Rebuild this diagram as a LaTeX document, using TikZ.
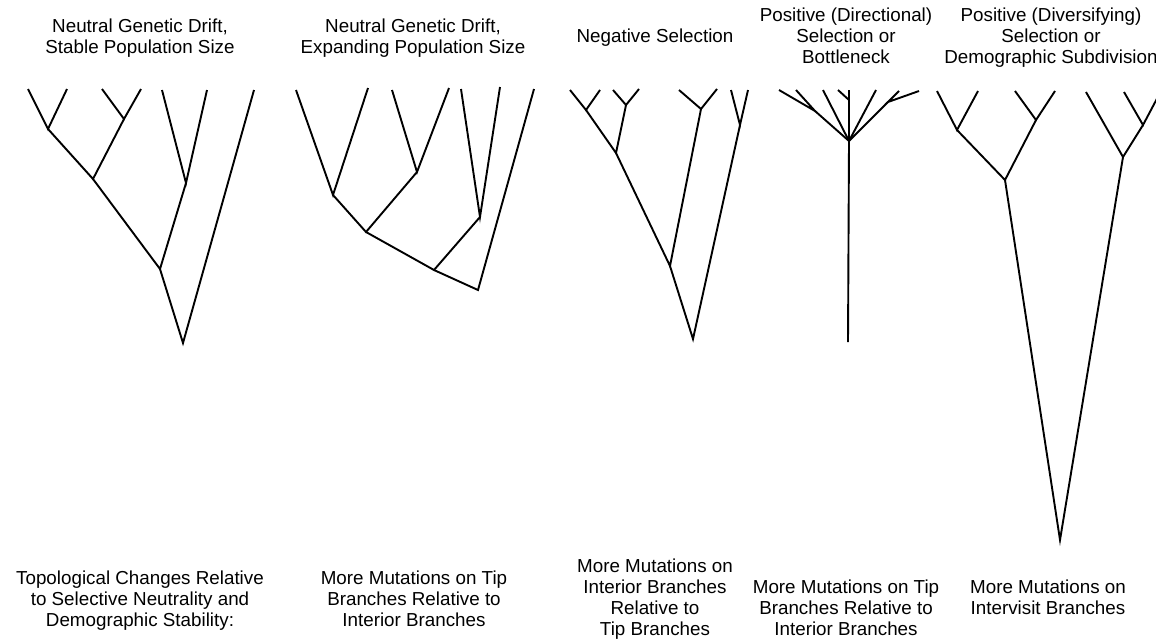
\documentclass[tikz,border=0pt]{standalone}
\usepackage{fontspec}
\setmainfont{Liberation Sans}
\begin{document}
\begin{tikzpicture}[x=1pt,y=-1pt,
  br/.style={line width=1.9pt, black},
  lbl/.style={align=center, inner sep=0pt, anchor=base, font=\fontsize{18.8}{21}\selectfont}]
\useasboundingbox (0,0) rectangle (1156,643);
% ---------- Tree 1 ----------
\coordinate (a1) at (28,89);  \coordinate (a2) at (67,89);
\coordinate (a3) at (102,89); \coordinate (a4) at (141,89);
\coordinate (a5) at (162,90); \coordinate (a6) at (207,90);
\coordinate (a7) at (254,90);
\coordinate (aA) at (48,129);  \coordinate (aB) at (124,119);
\coordinate (aC) at (93,179);  \coordinate (aD) at (186,183);
\coordinate (aE) at (160,269); \coordinate (aR) at (183,343);
\draw[br] (a1) -- (aA) -- (a2);
\draw[br] (a3) -- (aB) -- (a4);
\draw[br] (aA) -- (aC) -- (aB);
\draw[br] (a5) -- (aD) -- (a6);
\draw[br] (aC) -- (aE) -- (aD);
\draw[br] (aE) -- (aR) -- (a7);
% ---------- Tree 2 ----------
\coordinate (b1) at (296,90);  \coordinate (b2) at (368,88);
\coordinate (b3) at (392,90);  \coordinate (b4) at (449,88);
\coordinate (b5) at (461,89);  \coordinate (b6) at (500,87);
\coordinate (b7) at (534,89);
\coordinate (bA) at (333,195); \coordinate (bB) at (417,172);
\coordinate (bC) at (366,232); \coordinate (bD) at (480,217);
\coordinate (bE) at (434,270); \coordinate (bR) at (478,290);
\draw[br] (b1) -- (bA) -- (b2);
\draw[br] (b3) -- (bB) -- (b4);
\draw[br] (bA) -- (bC) -- (bB);
\draw[br] (b5) -- (bD) -- (b6);
\draw[br] (bC) -- (bE) -- (bD);
\draw[br] (bE) -- (bR) -- (b7);
% ---------- Tree 3 ----------
\coordinate (c1) at (570,90);  \coordinate (c2) at (600,90);
\coordinate (c3) at (613,90);  \coordinate (c4) at (639,89);
\coordinate (c5) at (679,90);  \coordinate (c6) at (717,89);
\coordinate (c7) at (731,90);  \coordinate (c8) at (748,90);
\coordinate (cA) at (586,110); \coordinate (cB) at (626,105);
\coordinate (cC) at (616,153); \coordinate (cD) at (701,109);
\coordinate (cF) at (740,125); \coordinate (cE) at (670,266);
\coordinate (cR) at (693,339);
\draw[br] (c1) -- (cA) -- (c2);
\draw[br] (c3) -- (cB) -- (c4);
\draw[br] (cA) -- (cC) -- (cB);
\draw[br] (c5) -- (cD) -- (c6);
\draw[br] (cC) -- (cE) -- (cD);
\draw[br] (c7) -- (cF) -- (c8);
\draw[br] (cE) -- (cR) -- (cF);
% ---------- Tree 4 ----------
\coordinate (d1) at (779,90);  \coordinate (d2) at (796,90);
\coordinate (d3) at (823,90);  \coordinate (d4) at (838,90);
\coordinate (d5) at (849,90);  \coordinate (d6) at (876,90);
\coordinate (d7) at (899,91);  \coordinate (d8) at (919,91);
\coordinate (dL) at (815,111); \coordinate (dM) at (849,100);
\coordinate (dRr) at (888,102);
\coordinate (dN) at (849,141); \coordinate (dB) at (848,342);
\draw[br] (d1) -- (dL) -- (d2);
\draw[br] (dL) -- (dN);
\draw[br] (d3) -- (dN);
\draw[br] (d4) -- (dM);
\draw[br] (d5) -- (dN);
\draw[br] (d6) -- (dN);
\draw[br] (d7) -- (dRr) -- (d8);
\draw[br] (dRr) -- (dN);
\draw[br] (dN) -- (dB);
% ---------- Tree 5 ----------
\coordinate (e1) at (937,91);   \coordinate (e2) at (978,91);
\coordinate (e3) at (1015,91);  \coordinate (e4) at (1055,91);
\coordinate (e5) at (1086,92);  \coordinate (e6) at (1124,92);
\coordinate (e7) at (1161,91);
\coordinate (eA) at (957,130);  \coordinate (eB) at (1036,120);
\coordinate (eC) at (1005,180); \coordinate (eD) at (1143,125);
\coordinate (eE) at (1123,157); \coordinate (eR) at (1060,540);
\draw[br] (e1) -- (eA) -- (e2);
\draw[br] (e3) -- (eB) -- (e4);
\draw[br] (eA) -- (eC) -- (eB);
\draw[br] (e6) -- (eD) -- (e7);
\draw[br] (e5) -- (eE) -- (eD);
\draw[br] (eC) -- (eR) -- (eE);
% ---------- Titles (anchor = baseline of last line) ----------
\node[lbl] (h1) at (140,53) {Neutral Genetic Drift,\\Stable Population Size};
\node[lbl] (h2) at (413,53) {Neutral Genetic Drift,\\Expanding Population Size};
\node[lbl] (h3) at (655,42) {Negative Selection};
\node[lbl] (h4) at (846,63) {Positive (Directional)\\Selection or\\Bottleneck};
\node[lbl] (h5) at (1051,63) {Positive (Diversifying)\\Selection or\\Demographic Subdivision};
% ---------- Bottom captions ----------
\node[lbl] (f1) at (140,626) {Topological Changes Relative\\to Selective Neutrality and\\Demographic Stability:};
\node[lbl] (f2) at (414,626) {More Mutations on Tip\\Branches Relative to\\Interior Branches};
\node[lbl] (f3) at (655,635) {More Mutations on\\Interior Branches\\Relative to\\Tip Branches};
\node[lbl] (f4) at (846,635) {More Mutations on Tip\\Branches Relative to\\Interior Branches};
\node[lbl] (f5) at (1048,614) {More Mutations on\\Intervisit Branches};
\end{tikzpicture}
\end{document}
